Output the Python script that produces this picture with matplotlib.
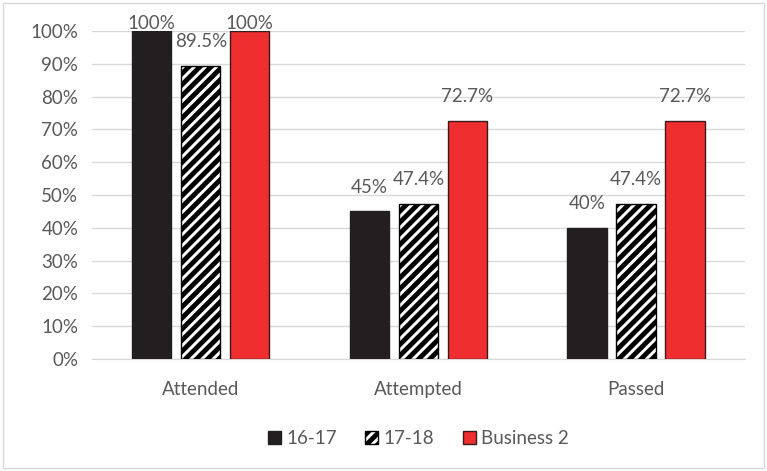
import matplotlib
matplotlib.use("Agg")
import matplotlib.pyplot as plt
import numpy as np
from matplotlib.patches import Rectangle

categories = ["Attended", "Attempted", "Passed"]
series = ["16-17", "17-18", "Business 2"]
vals_1617 = [100, 45, 40]
vals_1718 = [89.5, 47.4, 47.4]
vals_bus2 = [100, 72.7, 72.7]
labels_1617 = ["100%", "45%", "40%"]
labels_1718 = ["89.5%", "47.4%", "47.4%"]
labels_bus2 = ["100%", "72.7%", "72.7%"]

plt.rcParams['font.family'] = ['Lato', 'DejaVu Sans']
plt.rcParams['hatch.linewidth'] = 3.5
grey = "#595959"

fig = plt.figure(figsize=(7.67, 4.71), dpi=100)
ax = fig.add_axes([0.12, 0.238, 0.851, 0.696])

x = np.arange(len(categories))
w = 0.18
step = 0.225
b1 = ax.bar(x - step, vals_1617, w, color="#231f20", edgecolor="#231f20", label=series[0], zorder=3)
b2 = ax.bar(x, vals_1718, w, color="white", edgecolor="black", hatch="///", linewidth=1, label=series[1], zorder=3)
b3 = ax.bar(x + step, vals_bus2, w, color="#ee2e2f", edgecolor="#3a1a1a", linewidth=1, label=series[2], zorder=3)

# labels sit above each bar; the 100% ones get squeezed against the top
for bars, labs, vals in [(b1, labels_1617, vals_1617), (b2, labels_1718, vals_1718), (b3, labels_bus2, vals_bus2)]:
    for bar, lab, v in zip(bars, labs, vals):
        pad = -1 if v >= 100 else 11
        ax.annotate(lab, (bar.get_x() + bar.get_width() / 2, v), xytext=(0, pad),
                    textcoords="offset points", ha="center", va="bottom",
                    color=grey, fontsize=13.5, annotation_clip=False)

ax.set_xlim(-0.5, 2.5)
ax.set_ylim(0, 100)
ax.set_yticks(np.arange(0, 101, 10))
ax.set_yticklabels([f"{v}%" for v in range(0, 101, 10)])
ax.set_xticks(x)
ax.set_xticklabels(categories)
ax.tick_params(colors=grey, labelsize=13.5, length=0)
ax.tick_params(axis="x", pad=16)
ax.tick_params(axis="y", pad=10)
ax.yaxis.grid(True, color="#d9d9d9", linewidth=1, zorder=0)
for s in ["top", "right", "left"]:
    ax.spines[s].set_visible(False)
ax.spines["bottom"].set_color("#d9d9d9")

leg = ax.legend(loc="upper center", bbox_to_anchor=(0.5, -0.165), ncol=3, frameon=False,
                fontsize=13.5, handlelength=0.7, handleheight=0.7, handletextpad=0.3, columnspacing=1.5)
for t in leg.get_texts():
    t.set_color(grey)

fig.patches.append(Rectangle((0.004, 0.006), 0.992, 0.988, transform=fig.transFigure,
                             fill=False, edgecolor="#d9d9d9", linewidth=1))

fig.savefig("out.png", dpi=100)
